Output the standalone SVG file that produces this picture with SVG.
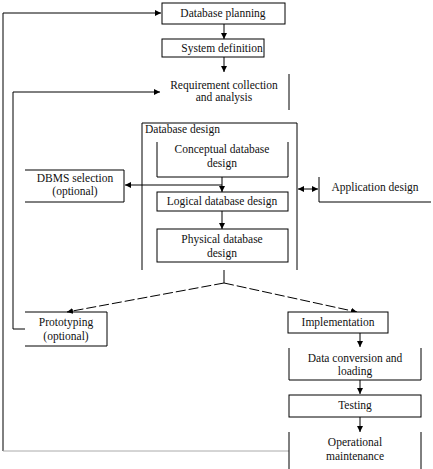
<svg xmlns="http://www.w3.org/2000/svg" width="433" height="469" viewBox="0 0 433 469">
<defs>
<marker id="ah" viewBox="0 0 8 8" refX="8" refY="4" markerWidth="6" markerHeight="6" orient="auto" markerUnits="userSpaceOnUse">
<path d="M0,0 L8,4 L0,8 z" fill="#000"/>
</marker>
<marker id="as" viewBox="0 0 8 8" refX="0" refY="4" markerWidth="6" markerHeight="6" orient="auto" markerUnits="userSpaceOnUse">
<path d="M8,0 L0,4 L8,8 z" fill="#000"/>
</marker>
</defs>
<style>
.b{fill:#fff;stroke:#000;stroke-width:1}
.l{fill:none;stroke:#000;stroke-width:1}
.c{fill:none;stroke:#000;stroke-width:1}
.d{fill:none;stroke:#000;stroke-width:1;stroke-dasharray:10 3}
text{font-family:"Liberation Serif","Times New Roman",serif;font-size:11.5px;fill:#111;text-anchor:middle}
.tl{text-anchor:start}
</style>
<rect width="433" height="469" fill="#fff"/>
<g id="connectors">
<polyline class="c" points="3,451 3,13 161,13" marker-end="url(#ah)"/>
<line x1="3" y1="451" x2="289" y2="451" stroke="#aaa" stroke-width="1"/>
<line class="c" x1="224" y1="24" x2="224" y2="39" marker-end="url(#ah)"/>
<line class="c" x1="224" y1="57" x2="224" y2="72" marker-end="url(#ah)"/>
<polyline class="c" points="25,329 13,329 13,92 160,92" marker-end="url(#ah)"/>
<line class="c" x1="222" y1="177" x2="222" y2="192" marker-end="url(#ah)"/>
<line class="c" x1="222" y1="185" x2="125" y2="185" marker-end="url(#ah)"/>
<line class="c" x1="222" y1="211" x2="222" y2="229" marker-end="url(#ah)"/>
<line class="c" x1="298" y1="189" x2="318" y2="189" marker-start="url(#as)" marker-end="url(#ah)"/>
<line class="c" x1="224" y1="270" x2="224" y2="283"/>
<line class="d" x1="224" y1="283" x2="67" y2="312" marker-end="url(#ah)"/>
<line class="d" x1="224" y1="283" x2="357" y2="312" marker-end="url(#ah)"/>
<line class="c" x1="360" y1="333" x2="360" y2="347" marker-end="url(#ah)"/>
<line class="c" x1="360" y1="380" x2="360" y2="394" marker-end="url(#ah)"/>
<line class="c" x1="360" y1="417" x2="360" y2="432" marker-end="url(#ah)"/>
</g>
<g id="database-planning">
<rect class="b" x="162" y="3" width="123" height="21"/>
<text x="223" y="17">Database planning</text>
</g>
<g id="system-definition">
<rect class="b" x="162" y="39" width="102" height="18"/>
<text x="222" y="52">System definition</text>
</g>
<g id="requirement">
<line class="l" x1="289" y1="74" x2="289" y2="110"/>
<text x="224" y="89">Requirement collection</text>
<text x="224" y="101">and analysis</text>
</g>
<g id="database-design">
<polyline class="l" points="142,270 142,123 297,123 297,270"/>
<text class="tl" x="145" y="133">Database design</text>
</g>
<g id="conceptual">
<polyline class="l" points="157,142 157,177 288,177 288,142"/>
<text x="222" y="153">Conceptual database</text>
<text x="222" y="167">design</text>
</g>
<g id="dbms-selection">
<polyline class="l" points="25,170 124,170 124,202 25,202"/>
<text x="75" y="182">DBMS selection</text>
<text x="75" y="195">(optional)</text>
</g>
<g id="logical">
<rect class="b" x="157" y="192" width="131" height="19"/>
<text x="222" y="205">Logical database design</text>
</g>
<g id="physical">
<rect class="b" x="157" y="229" width="131" height="33"/>
<text x="222" y="243">Physical database</text>
<text x="222" y="257">design</text>
</g>
<g id="application-design">
<polyline class="l" points="319,177 319,202 431,202"/>
<text x="375" y="191">Application design</text>
</g>
<g id="prototyping">
<polyline class="l" points="25,312 107,312 107,346 25,346"/>
<text x="66" y="326">Prototyping</text>
<text x="66" y="340">(optional)</text>
</g>
<g id="implementation">
<rect class="b" x="288" y="312" width="100" height="21"/>
<text x="338" y="326">Implementation</text>
</g>
<g id="data-conversion">
<polyline class="l" points="289,348 289,380 421,380 421,348"/>
<text x="355" y="362">Data conversion and</text>
<text x="355" y="375">loading</text>
</g>
<g id="testing">
<rect class="b" x="289" y="395" width="132" height="22"/>
<text x="355" y="409">Testing</text>
</g>
<g id="operational">
<line class="l" x1="289" y1="432" x2="289" y2="469"/>
<line class="l" x1="421" y1="432" x2="421" y2="469"/>
<text x="355" y="446">Operational</text>
<text x="355" y="460">maintenance</text>
</g>
</svg>
